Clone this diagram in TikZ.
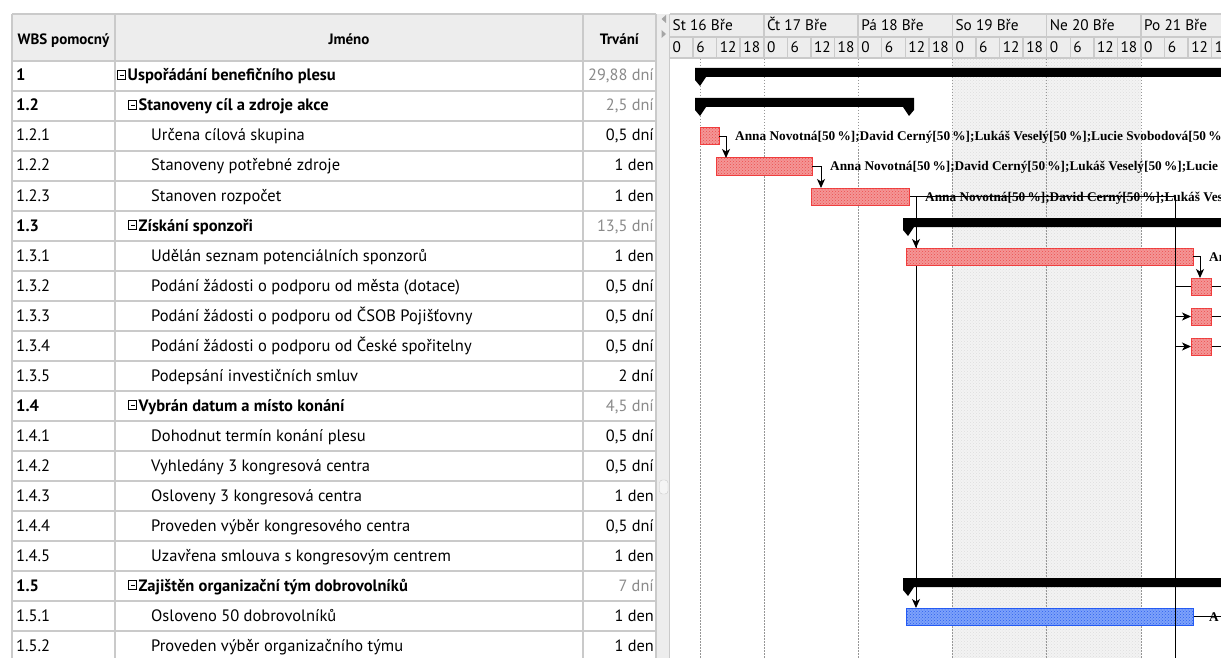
\documentclass[tikz,border=0pt]{standalone}
\usepackage{fontspec}
\setmainfont{PT Sans}
\newfontfamily\resfont{Liberation Serif}
\usetikzlibrary{patterns,arrows.meta}

\definecolor{gridline}{RGB}{202,202,202}
\definecolor{headbg}{RGB}{237,237,237}
\definecolor{sumdur}{RGB}{138,138,138}
\definecolor{taskfill}{RGB}{244,150,150}
\definecolor{taskdot}{RGB}{236,78,78}
\definecolor{taskedge}{RGB}{240,60,60}
\definecolor{crewfill}{RGB}{125,162,250}
\definecolor{crewdot}{RGB}{45,95,238}
\definecolor{crewedge}{RGB}{35,90,245}
\definecolor{weekend}{RGB}{243,243,243}
\definecolor{weekdot}{RGB}{222,222,222}
\definecolor{dayline}{RGB}{150,150,150}
\definecolor{knob}{RGB}{165,165,165}

% summary bar with the two downward tips: name, start x, end x, row centre y
\newcommand\ganttsummary[4]{%
  \fill (#2,#4-7) -- (#3,#4-7) -- (#3,#4+5) -- (#3-5,#4+11) -- (#3-11,#4+2)
        -- (#2+11,#4+2) -- (#2+5,#4+11) -- (#2,#4+5) -- cycle;
  \coordinate (#1) at (#2,#4);}
% small collapse box in front of a summary name: left x, centre y
\newcommand\collapsebox[2]{%
  \draw[line width=0.7pt] (#1+0.5,#2-4.5) rectangle (#1+8.5,#2+4.5);
  \draw[line width=0.8pt] (#1+2.5,#2) -- (#1+6.5,#2);}

\begin{document}
\begin{tikzpicture}[x=1pt,y=-1pt,
  tabline/.style={draw=gridline, line width=1.5pt},
  tabtext/.style={inner sep=0pt, anchor=base west, font=\fontsize{16.5}{19}\selectfont},
  tabbold/.style={inner sep=0pt, anchor=base west, font=\fontsize{16.5}{19}\selectfont\bfseries},
  durtext/.style={inner sep=0pt, anchor=base east, font=\fontsize{16.3}{19}\selectfont},
  headtext/.style={inner sep=0pt, anchor=base, font=\fontsize{15}{17}\selectfont\bfseries},
  timetext/.style={inner sep=0pt, anchor=base west, font=\fontsize{15.3}{18}\selectfont},
  restext/.style={inner sep=0pt, anchor=base west, font=\resfont\fontsize{13.3}{15}\selectfont\bfseries},
  dayrule/.style={draw=dayline, line width=0.6pt, dash pattern=on 1.5pt off 1.5pt},
  taskbar/.style={draw=taskedge, line width=1pt, fill=taskfill,
    postaction={pattern=crosshatch dots, pattern color=taskdot},
    inner sep=0pt, outer sep=0pt, minimum height=17pt, anchor=north west},
  crewbar/.style={draw=crewedge, line width=1pt, fill=crewfill,
    postaction={pattern=crosshatch dots, pattern color=crewdot},
    inner sep=0pt, outer sep=0pt, minimum height=17pt, anchor=north west},
  deplink/.style={draw=black, line width=1pt},
  deparrow/.style={deplink, -{Stealth[length=9pt,width=8pt,inset=2.5pt]}},
]
\useasboundingbox (0,0) rectangle (1221,658);
\fill[white] (0,0) rectangle (1221,658);

% ---------- task table ----------
\fill[headbg] (12,14) rectangle (656,61);
\foreach \k in {0,...,19} \draw[tabline] (12,{61+30*\k}) -- (656,{61+30*\k});
\draw[tabline] (12,14) -- (656,14);
\foreach \x in {12,115,583,656} \draw[tabline] (\x,14) -- (\x,658);

\node[headtext] (hwbs) at (63.5,45) {WBS pomocný};
\node[headtext] (hname) at (349,45) {Jméno};
\node[headtext] (hdur) at (619.5,45) {Trvání};

% summary rows
\foreach \k/\w/\n/\d/\ind in {
  0/1/Uspořádání benefičního plesu/{29,88 dní}/117,
  1/1.2/Stanoveny cíl a zdroje akce/{2,5 dní}/128,
  5/1.3/Získání sponzoři/{13,5 dní}/128,
  11/1.4/Vybrán datum a místo konání/{4,5 dní}/128,
  17/1.5/Zajištěn organizační tým dobrovolníků/{7 dní}/128}{
  \node[tabbold] (sw\k) at (16,{81+30*\k}) {\w};
  \collapsebox{\ind}{75+30*\k}
  \node[tabbold] (sn\k) at ({\ind+10.5},{81+30*\k}) {\n};
  \node[durtext, text=sumdur] (sd\k) at (654,{81+30*\k}) {\d};
}

% work rows
\foreach \k/\w/\n/\d in {
  2/1.2.1/Určena cílová skupina/{0,5 dní},
  3/1.2.2/Stanoveny potřebné zdroje/1 den,
  4/1.2.3/Stanoven rozpočet/1 den,
  6/1.3.1/Udělán seznam potenciálních sponzorů/1 den,
  7/1.3.2/Podání žádosti o podporu od města (dotace)/{0,5 dní},
  8/1.3.3/Podání žádosti o podporu od ČSOB Pojišťovny/{0,5 dní},
  9/1.3.4/Podání žádosti o podporu od České spořitelny/{0,5 dní},
  10/1.3.5/Podepsání investičních smluv/2 dní,
  12/1.4.1/Dohodnut termín konání plesu/{0,5 dní},
  13/1.4.2/Vyhledány 3 kongresová centra/{0,5 dní},
  14/1.4.3/Osloveny 3 kongresová centra/1 den,
  15/1.4.4/Proveden výběr kongresového centra/{0,5 dní},
  16/1.4.5/Uzavřena smlouva s kongresovým centrem/1 den,
  18/1.5.1/Osloveno 50 dobrovolníků/1 den,
  19/1.5.2/Proveden výběr organizačního týmu/1 den}{
  \node[tabtext] (tw\k) at (16,{81+30*\k}) {\w};
  \node[tabtext] (tn\k) at (151,{81+30*\k}) {\n};
  \node[durtext] (td\k) at (654,{81+30*\k}) {\d};
}

% ---------- splitter ----------
\fill[headbg] (657,14) rectangle (670,658);
\draw[tabline] (669.5,14) -- (669.5,658);
\fill[knob] (666,15) -- (661.5,19) -- (666,23) -- cycle;
\fill[knob] (661.5,30) -- (666,34) -- (661.5,38) -- cycle;
\draw[draw=gridline, fill=white!96!black, rounded corners=3pt] (659.5,480) rectangle (668,494);

% ---------- timeline ----------
\begin{scope}
\clip (670,14) rectangle (1221,658);
\fill[headbg] (670,14) rectangle (1221,58);
\draw[tabline] (670,14) -- (1221,14);
\draw[tabline] (670,37) -- (1221,37);
\draw[tabline] (670,58) -- (1221,58);
\foreach \i/\lab in {0/St 16 Bře,1/Čt 17 Bře,2/Pá 18 Bře,3/So 19 Bře,4/Ne 20 Bře,5/Po 21 Bře}{
  \draw[tabline] ({669.5+94.3*\i},14) -- ++(0,44);
  \node[timetext] (day\i) at ({672.5+94.3*\i},31) {\lab};
  \foreach \j/\h in {0/0,1/6,2/12,3/18}{
    \draw[tabline] ({669.5+94.3*\i+23.575*\j},37) -- ++(0,21);
    \node[timetext] (hr\i\j) at ({672.5+94.3*\i+23.575*\j},53) {\h};
  }
}

% weekend and day rules
\fill[weekend] (952.4,59) rectangle (1141,658);
\fill[pattern=crosshatch dots, pattern color=weekdot] (952.4,59) rectangle (1141,658);
\foreach \x in {700,763.8,858.1,952.4,1046.7,1141}
  \draw[dayrule] (\x,59) -- (\x,658);

% connector points
\coordinate (k122) at (726,158);
\coordinate (k123) at (821,188);
\coordinate (j1) at (916,196.5);
\coordinate (j2) at (1175,196.5);
\coordinate (j2end) at (1175,660);
\coordinate (s13bot) at (916,227);
\coordinate (s15top) at (916,578);
\coordinate (s15bot) at (916,587);
\coordinate (k132) at (1200,278);
\coordinate (edge) at (1230,0);

% work bars
\node[taskbar, minimum width=19pt] (t121) at (700,128) {};
\node[taskbar, minimum width=96pt] (t122) at (716,158) {};
\node[taskbar, minimum width=98pt] (t123) at (811,188) {};
\node[taskbar, minimum width=287pt] (t131) at (906,248) {};
\node[taskbar, minimum width=20pt] (t132) at (1191,278) {};
\node[taskbar, minimum width=20pt] (t133) at (1191,308) {};
\node[taskbar, minimum width=20pt] (t134) at (1191,338) {};
\node[crewbar, minimum width=287pt] (t151) at (906,608) {};

% dependency lines behind the bars
\draw[deplink] (t123.east) -- (j2);
\draw[deplink] (j1) -- (s15top);
\draw[deplink] (t151.east) -- (t151.east -| edge);
\draw[deplink] (t132.east) -- (t132.east -| edge);
\draw[deplink] (t133.east) -- (t133.east -| edge);
\draw[deplink] (t134.east) -- (t134.east -| edge);

% bars painted again over those lines
\node[taskbar, minimum width=98pt] at (811,188) {};
\node[taskbar, minimum width=287pt] at (906,248) {};
\node[crewbar, minimum width=287pt] at (906,608) {};
\node[taskbar, minimum width=20pt] at (1191,278) {};
\node[taskbar, minimum width=20pt] at (1191,308) {};
\node[taskbar, minimum width=20pt] at (1191,338) {};

% summary bars
\ganttsummary{s1}{695}{1240}{75}
\ganttsummary{s12}{695}{914}{105}
\ganttsummary{s13}{903}{1240}{225}
\ganttsummary{s15}{903}{1240}{585}

% arrows and the long link
\draw[deparrow] (t121.east) -| (k122);
\draw[deparrow] (t122.east) -| (k123);
\draw[deparrow] (s13bot) -- (t131.north -| s13bot);
\draw[deparrow] (s15bot) -- (t151.north -| s15bot);
\draw[deparrow] (t131.east) -| (k132);
\draw[deplink] (j2) -- (j2end);
\draw[deplink] (t132.west -| j2) -- (t132.west);
\draw[deparrow] (t133.west -| j2) -- (t133.west);
\draw[deparrow] (t134.west -| j2) -- (t134.west);

% resource labels
\node[restext] (r121) at (735,141) {Anna Novotná[50\,\%];David Cerný[50\,\%];Lukáš Veselý[50\,\%];Lucie Svobodová[50\,\%};
\node[restext] (r122) at (830,171) {Anna Novotná[50\,\%];David Cerný[50\,\%];Lukáš Veselý[50\,\%];Lucie};
\node[restext] (r123) at (925,201) {Anna Novotná[50\,\%];David Cerný[50\,\%];Lukáš Ves};
\node[restext] (r131) at (1209,261) {An};
\node[restext] (r151) at (1209,621) {A};
\end{scope}
\end{tikzpicture}
\end{document}
